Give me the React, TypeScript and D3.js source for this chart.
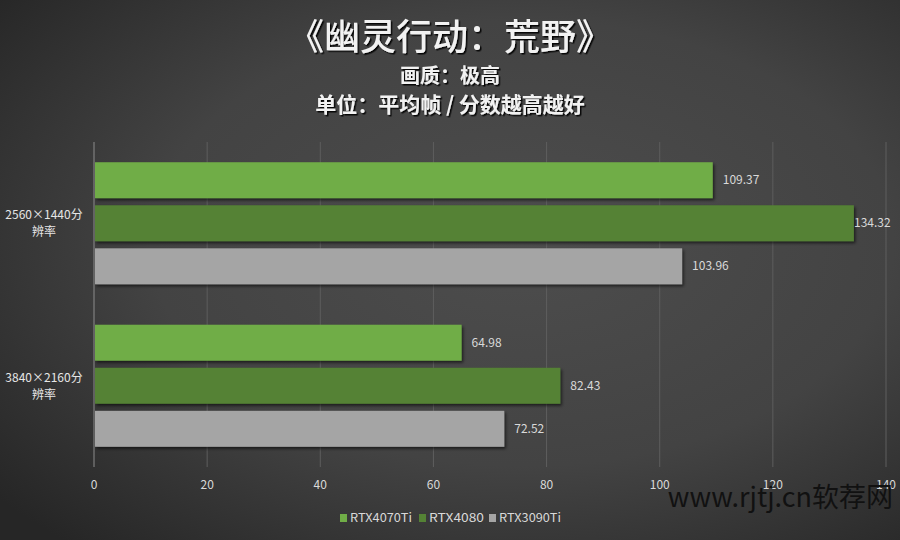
import React, { useEffect, useRef } from 'react';
import * as d3 from 'd3';

// chart data
const categories = ['2560×1440分辨率', '3840×2160分辨率'];
const categoryLines = [['2560×1440分', '辨率'], ['3840×2160分', '辨率']];
const seriesNames = ['RTX4070Ti', 'RTX4080', 'RTX3090Ti'];
const rtx4070ti = [109.37, 64.98];
const rtx4080 = [134.32, 82.43];
const rtx3090ti = [103.96, 72.52];
const xTicks = [0, 20, 40, 60, 80, 100, 120, 140];
const colors = ['#70ad47', '#548235', '#a5a5a5'];

const App: React.FC = () => {
  const svgRef = useRef<SVGSVGElement>(null);

  useEffect(() => {
    if (!svgRef.current) return;
    const svg = d3.select(svgRef.current);
    svg.selectAll('*').remove();

    const width = 900;
    const height = 540;
    const margin = { top: 142, right: 14, bottom: 73, left: 94 };
    const font = '"Noto Sans CJK SC", "Noto Sans", sans-serif';

    const defs = svg.append('defs');
    const grad = defs.append('radialGradient')
      .attr('id', 'bg')
      .attr('cx', '58%').attr('cy', '45%').attr('r', '75%');
    grad.append('stop').attr('offset', '0%').attr('stop-color', '#4d4d4d');
    grad.append('stop').attr('offset', '55%').attr('stop-color', '#434343');
    grad.append('stop').attr('offset', '100%').attr('stop-color', '#262626');

    const shadow = defs.append('filter').attr('id', 'shadow')
      .attr('x', '-10%').attr('y', '-20%').attr('width', '120%').attr('height', '160%');
    shadow.append('feDropShadow')
      .attr('dx', 1.5).attr('dy', 2).attr('stdDeviation', 1.5)
      .attr('flood-color', '#000').attr('flood-opacity', 0.6);

    const tshadow = defs.append('filter').attr('id', 'tshadow');
    tshadow.append('feDropShadow')
      .attr('dx', 1.5).attr('dy', 1.5).attr('stdDeviation', 0.6)
      .attr('flood-color', '#000').attr('flood-opacity', 0.9);

    svg.append('rect').attr('width', width).attr('height', height).attr('fill', 'url(#bg)');

    // Titles
    const titles = [
      { t: '《幽灵行动：荒野》', y: 50, s: 36, w: 500 },
      { t: '画质：极高', y: 83, s: 20, w: 700 },
      { t: '单位：平均帧 / 分数越高越好', y: 112, s: 21, w: 700 },
    ];
    svg.append('g').selectAll('text').data(titles).enter().append('text')
      .attr('x', 450).attr('y', (d) => d.y)
      .attr('text-anchor', 'middle')
      .attr('font-family', font)
      .attr('font-size', (d) => d.s)
      .attr('font-weight', (d) => d.w)
      .attr('fill', '#f2f2f2')
      .attr('filter', 'url(#tshadow)')
      .text((d) => d.t);

    const x = d3.scaleLinear().domain([0, 140]).range([margin.left, width - margin.right]);
    const y = d3.scaleBand().domain(categories).range([margin.top, height - margin.bottom]).paddingInner(0).paddingOuter(0);
    const inner = d3.scaleBand().domain(seriesNames).range([0, y.bandwidth()]).paddingInner(0.165).paddingOuter(0.47);

    // gridlines
    svg.append('g').selectAll('line').data(xTicks.slice(1)).enter().append('line')
      .attr('x1', (d) => x(d)).attr('x2', (d) => x(d))
      .attr('y1', margin.top).attr('y2', height - margin.bottom)
      .attr('stroke', '#5e5e5e').attr('stroke-width', 1);

    // bars
    const series = [rtx4070ti, rtx4080, rtx3090ti];
    series.forEach((vals, si) => {
      const g = svg.append('g');
      g.selectAll('rect').data(vals).enter().append('rect')
        .attr('x', x(0) + 1)
        .attr('y', (_, i) => (y(categories[i]) as number) + (inner(seriesNames[si]) as number))
        .attr('width', (d) => x(d) - x(0) - 1)
        .attr('height', inner.bandwidth())
        .attr('fill', colors[si])
        .attr('filter', 'url(#shadow)');
      g.selectAll('text').data(vals).enter().append('text')
        .attr('x', (d) => Math.min(x(d) + 10, width - 46))
        .attr('y', (_, i) => (y(categories[i]) as number) + (inner(seriesNames[si]) as number) + inner.bandwidth() / 2)
        .attr('dy', '0.35em')
        .attr('font-family', font)
        .attr('font-size', 12)
        .attr('fill', '#d9d9d9')
        .text((d) => d.toFixed(2));
    });

    // vertical axis line
    svg.append('line')
      .attr('x1', x(0)).attr('x2', x(0))
      .attr('y1', margin.top).attr('y2', height - margin.bottom)
      .attr('stroke', '#8c8c8c').attr('stroke-width', 1);

    // x tick labels
    svg.append('g').selectAll('text').data(xTicks).enter().append('text')
      .attr('x', (d) => x(d)).attr('y', height - margin.bottom + 22)
      .attr('text-anchor', 'middle')
      .attr('font-family', font).attr('font-size', 12)
      .attr('fill', '#d9d9d9')
      .text((d) => d);

    // category labels
    categoryLines.forEach((lines, i) => {
      const cy = (y(categories[i]) as number) + y.bandwidth() / 2;
      const t = svg.append('text')
        .attr('text-anchor', 'middle')
        .attr('font-family', font).attr('font-size', 12)
        .attr('fill', '#e6e6e6');
      lines.forEach((l, k) => {
        t.append('tspan').attr('x', 44).attr('y', cy - 4 + k * 17).text(l);
      });
    });

    // legend
    const legend = svg.append('g').attr('transform', 'translate(340, 518)');
    const itemX = [0, 79, 149];
    seriesNames.forEach((n, i) => {
      legend.append('rect').attr('x', itemX[i]).attr('y', -4).attr('width', 7).attr('height', 8).attr('fill', colors[i]);
      legend.append('text').attr('x', itemX[i] + 10).attr('y', 0).attr('dy', '0.35em')
        .attr('font-family', font).attr('font-size', 12).attr('fill', '#d9d9d9')
        .attr('textLength', i === 1 ? 55 : 62).attr('lengthAdjust', 'spacingAndGlyphs')
        .text(n);
    });

    // watermark
    svg.append('text')
      .attr('x', 893).attr('y', 507)
      .attr('text-anchor', 'end')
      .attr('font-family', font).attr('font-size', 27)
      .attr('fill', '#111')
      .text('www.rjtj.cn软荐网');
  }, []);

  return (
    <div style={{ position: 'absolute', left: 0, top: 0 }}>
      <svg ref={svgRef} width={900} height={540} style={{ display: 'block' }}></svg>
    </div>
  );
};

export default App;
